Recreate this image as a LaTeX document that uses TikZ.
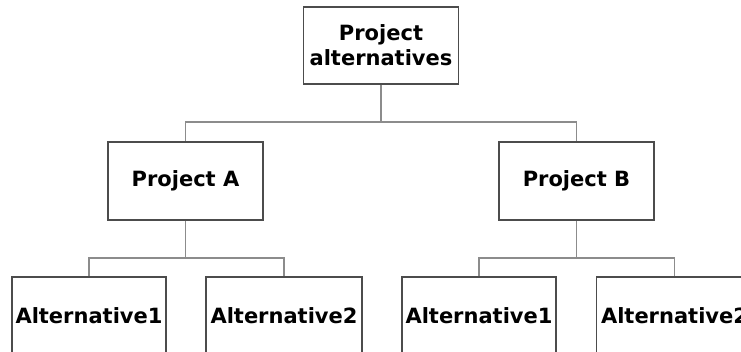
\documentclass[tikz,border=0pt]{standalone}
\usepackage{fontspec}
\setmainfont{DejaVu Sans}
\begin{document}
\begin{tikzpicture}[x=1pt,y=-1pt,
  box/.style={draw=black!70,line width=1.2pt,rectangle,minimum width=155pt,inner sep=0pt,
    font=\fontsize{21}{25}\selectfont\bfseries,align=center},
  conn/.style={draw=black!45,line width=1.5pt}]
\useasboundingbox (0,0) rectangle (741,352);
\clip (0,0) rectangle (741,352);
\node[box,minimum height=77pt] (top) at (381,45.5) {Project\\alternatives};
\node[box,minimum height=78pt] (pa) at (185.5,181) {Project A};
\node[box,minimum height=78pt] (pb) at (576.5,181) {Project B};
\node[box,minimum width=154pt,minimum height=78pt] (a1) at (89,316) {Alternative1};
\node[box,minimum width=156pt,minimum height=78pt] (a2) at (284,316) {Alternative2};
\node[box,minimum width=154pt,minimum height=78pt] (b1) at (479,316) {Alternative1};
\node[box,minimum width=156pt,minimum height=78pt] (b2) at (674.5,316) {Alternative2};
\coordinate (bus0) at (381,122);
\coordinate (busA) at (185.5,258);
\coordinate (busB) at (576.5,258);
\draw[conn] (top.south) -- (bus0);
\draw[conn] (bus0) -| (pa.north);
\draw[conn] (bus0) -| (pb.north);
\draw[conn] (pa.south) -- (busA);
\draw[conn] (busA) -| (a1.north);
\draw[conn] (busA) -| (a2.north);
\draw[conn] (pb.south) -- (busB);
\draw[conn] (busB) -| (b1.north);
\draw[conn] (busB) -| (b2.north);
\end{tikzpicture}
\end{document}
